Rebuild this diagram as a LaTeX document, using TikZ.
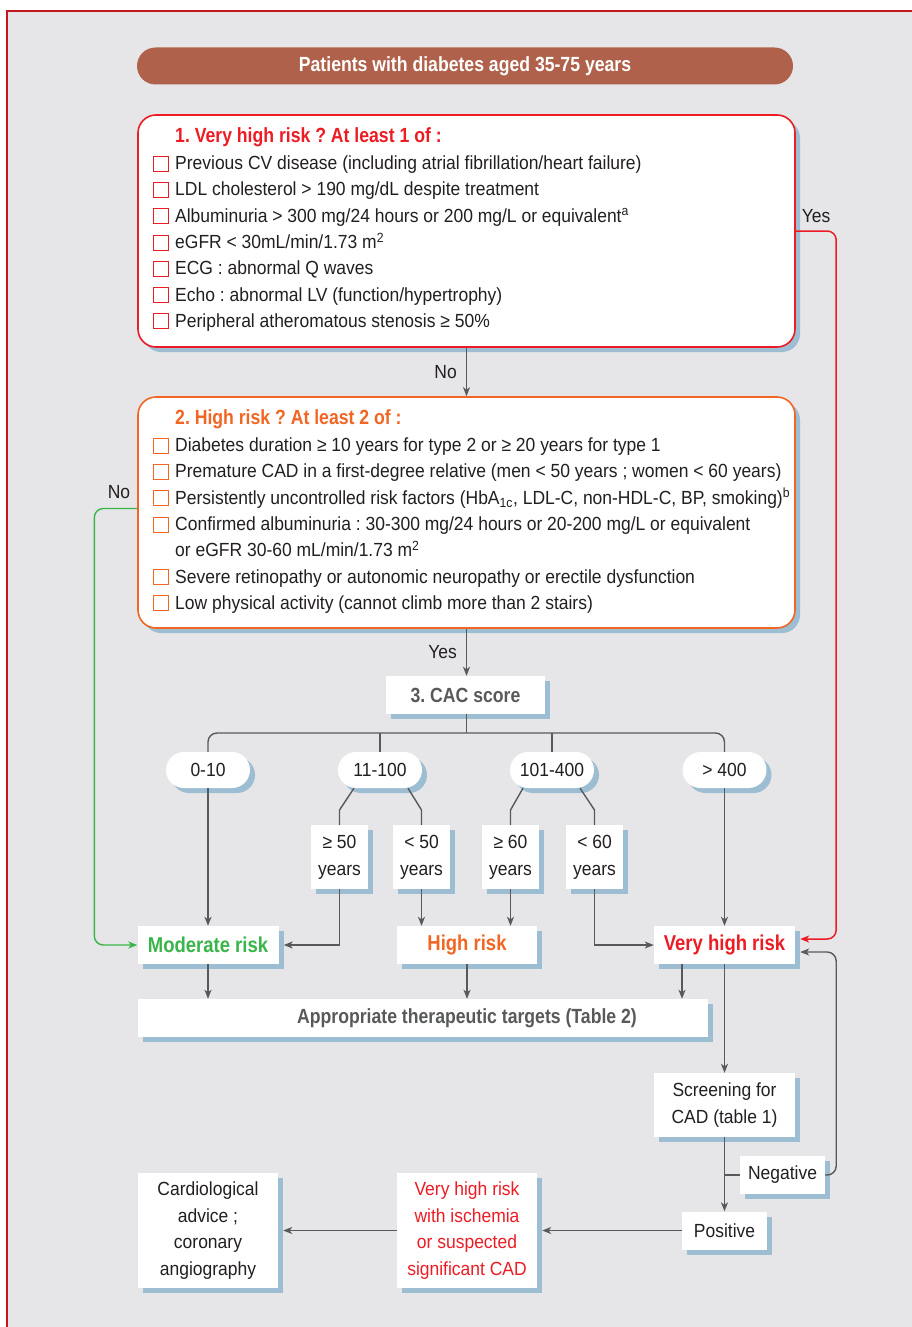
\documentclass[tikz,border=0pt]{standalone}
\usepackage{fontspec}
\setmainfont{Liberation Sans}[FakeStretch=0.92]
\newfontfamily\headfont{Liberation Sans}[FakeStretch=0.86]
\frenchspacing
\usetikzlibrary{arrows.meta,shadows}
\definecolor{bgray}{HTML}{E6E6E8}
\definecolor{framered}{HTML}{C4161C}
\definecolor{boxred}{HTML}{ED1C24}
\definecolor{boxorange}{HTML}{F26522}
\definecolor{brownred}{HTML}{B0614B}
\definecolor{shblue}{HTML}{9DBDD2}
\definecolor{lgray}{HTML}{58595B}
\definecolor{modgreen}{HTML}{3AB54A}
\definecolor{txt}{HTML}{231F20}
\tikzset{
  every node/.style={inner sep=0pt, text=txt},
  sh/.style={drop shadow={shadow xshift=5pt, shadow yshift=-5pt, fill=shblue, opacity=1}},
  bigbox/.style={draw=#1, line width=1.6pt, rounded corners=18pt, fill=white, sh,
    minimum width=657pt, minimum height=232pt},
  pill/.style={fill=white, rounded corners=18pt, sh, minimum width=84pt, minimum height=36pt},
  box/.style={fill=white, sh, minimum height=38pt},
  head/.style={font=\headfont\bfseries\fontsize{20.5}{24}\selectfont},
  riskhead/.style={font=\headfont\bfseries\fontsize{21.5}{24}\selectfont},
  item/.style={anchor=west, text height=13pt, text depth=4pt},
  chk/.style={draw=#1, fill=white, line width=0.8pt, minimum width=15pt, minimum height=15pt},
  link/.style={draw=lgray, line width=1.4pt},
  arr/.style={link, -{Stealth[length=9pt, width=7pt, inset=2.5pt]}},
  redarr/.style={draw=boxred, line width=1.5pt, -{Stealth[length=9pt, width=7pt, inset=2.5pt]}},
  greenarr/.style={draw=modgreen, line width=1.4pt, -{Stealth[length=9pt, width=7pt, inset=2.5pt]}},
}

\begin{document}
\begin{tikzpicture}[x=1pt, y=-1pt, font=\fontsize{19}{27}\selectfont]
  \useasboundingbox (0,0) rectangle (912,1327);
  \fill[white] (0,0) rectangle (912,1327);
  \fill[bgray] (7,11) rectangle (912,1327);
  \draw[framered, line width=2pt] (7,1327) -- (7,11) -- (912,11);

  \node[fill=brownred, rounded corners=18.5pt, minimum width=656pt, minimum height=37pt,
    head, text=white] (pt) at (465,66) {Patients with diabetes aged 35-75 years};

  \node[bigbox=boxred] (v1) at (466.5,231) {};
  \node[head, text=boxred, anchor=west] (v1t) at (175,137) {1. Very high risk ? At least 1 of :};
  \foreach \txt [count=\i from 0] in {
    {Previous CV disease (including atrial fibrillation/heart failure)},
    {LDL cholesterol > 190 mg/dL despite treatment},
    {Albuminuria > 300 mg/24 hours or 200 mg/L or equivalent\textsuperscript{a}},
    {eGFR < 30mL/min/1.73 m\textsuperscript{2}},
    {ECG : abnormal Q waves},
    {Echo : abnormal LV (function/hypertrophy)},
    {Peripheral atheromatous stenosis ≥ 50\%}} {
    \node[item] (va\i) at (175,{165+26.3*\i}) {\txt};
    \node[chk=boxred] (vc\i) at (161,{163.5+26.3*\i}) {};
  }

  \node[bigbox=boxorange, minimum height=231pt] (h2) at (466.5,512.5) {};
  \node[head, text=boxorange, anchor=west] (h2t) at (175,419) {2. High risk ? At least 2 of :};
  \foreach \txt [count=\i from 0] in {
    {Diabetes duration ≥ 10 years for type 2 or ≥ 20 years for type 1},
    {Premature CAD in a first-degree relative (men < 50 years ; women < 60 years)},
    {Persistently uncontrolled risk factors (HbA\textsubscript{1c}, LDL-C, non-HDL-C, BP, smoking)\textsuperscript{b}},
    {Confirmed albuminuria : 30-300 mg/24 hours or 20-200 mg/L or equivalent},
    {or eGFR 30-60 mL/min/1.73 m\textsuperscript{2}},
    {Severe retinopathy or autonomic neuropathy or erectile dysfunction},
    {Low physical activity (cannot climb more than 2 stairs)}} {
    \node[item] (ha\i) at (175,{447+26.3*\i}) {\txt};
  }
  \foreach \i in {0,1,2,3,5,6}
    \node[chk=boxorange] (hc\i) at (161,{445.5+26.3*\i}) {};

  \node[box, minimum width=159pt, head, text=lgray] (cac) at (465.5,695) {3. CAC score};

  \node[pill] (p010) at (208,770) {0-10};
  \node[pill] (p11) at (380,770) {11-100};
  \node[pill] (p101) at (552,770) {101-400};
  \node[pill] (p400) at (724.5,770) {> 400};

  \node[box, minimum width=57pt, minimum height=64pt, align=center] (a50) at (339.5,857) {≥ 50\\years};
  \node[box, minimum width=57pt, minimum height=64pt, align=center] (b50) at (421.5,857) {< 50\\years};
  \node[box, minimum width=57pt, minimum height=64pt, align=center] (a60) at (510.5,857) {≥ 60\\years};
  \node[box, minimum width=57pt, minimum height=64pt, align=center] (b60) at (594.5,857) {< 60\\years};

  \node[box, minimum width=141pt, riskhead, text=modgreen] (mod) at (208,945) {Moderate risk};
  \node[box, minimum width=140pt, riskhead, text=boxorange] (high) at (467,945) {High risk};
  \node[box, minimum width=141pt, riskhead, text=boxred] (vh) at (724.5,945) {Very high risk};

  \node[box, minimum width=570pt] (tgt) at (423,1018) {};
  \node[head, text=lgray] (tgtl) at (467,1018) {Appropriate therapeutic targets (Table 2)};

  \node[box, minimum width=141pt, minimum height=64pt, align=center] (scr) at (724.5,1105) {Screening for\\CAD (table 1)};
  \node[box, minimum width=85pt] (neg) at (782.5,1175) {Negative};
  \node[box, minimum width=85pt] (pos) at (724.5,1230.5) {Positive};

  \node[box, minimum width=140pt, minimum height=115pt, align=center, text=boxred,
    font=\fontsize{19}{26.6}\selectfont] (isch) at (467,1230.5)
    {Very high risk\\with ischemia\\or suspected\\significant CAD};
  \node[box, minimum width=140pt, minimum height=115pt, align=center,
    font=\fontsize{19}{26.6}\selectfont] (card) at (208,1230.5)
    {Cardiological\\advice ;\\coronary\\angiography};

  \coordinate (bus) at (466.5,733);
  \coordinate (kb) at (0,810);

  \draw[arr] (v1.south) -- node[anchor=east, xshift=-9pt] (no1) {No} (h2.north);
  \draw[arr] (h2.south) -- node[anchor=east, xshift=-9pt] (yes2) {Yes} (h2.south |- cac.north);
  \draw[redarr, rounded corners=9pt] (v1.east) -| ([xshift=41pt,yshift=6pt]vh.east)
    -- ([xshift=5pt,yshift=6pt]vh.east);
  \node (yes1) at (816,216) {Yes};
  \draw[greenarr, rounded corners=9pt] ([yshift=4pt]h2.west) -| ([xshift=-43pt]mod.west) -- (mod.west);
  \node (no2) at (119,492) {No};

  \draw[link] (bus |- cac.south) -- (bus);
  \draw[link, rounded corners=9pt] (p010.north) -- (p010.north |- bus) -- (p400.north |- bus) -- (p400.north);
  \draw[link] (p11.north) -- (p11.north |- bus);
  \draw[link] (p101.north) -- (p101.north |- bus);

  \draw[link] ([xshift=-26pt]p11.south) -- (a50.north |- kb) -- (a50.north);
  \draw[link] ([xshift=28pt]p11.south) -- (b50.north |- kb) -- (b50.north);
  \draw[link] ([xshift=-29pt]p101.south) -- (a60.north |- kb) -- (a60.north);
  \draw[link] ([xshift=28pt]p101.south) -- (b60.north |- kb) -- (b60.north);

  \draw[arr] (p010.south) -- (mod.north);
  \draw[arr] (a50.south) |- ([xshift=5pt]mod.east);
  \draw[arr] (b50.south) -- (b50.south |- high.north);
  \draw[arr] (a60.south) -- (a60.south |- high.north);
  \draw[arr] (b60.south) |- (vh.west);
  \draw[arr] (p400.south) -- (vh.north);

  \draw[arr] (mod.south) -- (mod.south |- tgt.north);
  \draw[arr] (high.south) -- (high.south |- tgt.north);
  \draw[arr] ([xshift=-42.5pt]vh.south) -- ([xshift=-42.5pt]vh.south |- tgt.north);
  \draw[arr] (vh.south) -- (scr.north);

  \draw[arr] (scr.south) -- (pos.north);
  \draw[link] (neg.west) -- (scr.south |- neg.west);
  \draw[arr, rounded corners=9pt] (neg.east) -| ([xshift=41pt,yshift=-7pt]vh.east)
    -- ([xshift=5pt,yshift=-7pt]vh.east);
  \draw[arr] (pos.west) -- ([xshift=5pt]isch.east);
  \draw[arr] (isch.west) -- ([xshift=5pt]card.east);
\end{tikzpicture}
\end{document}
